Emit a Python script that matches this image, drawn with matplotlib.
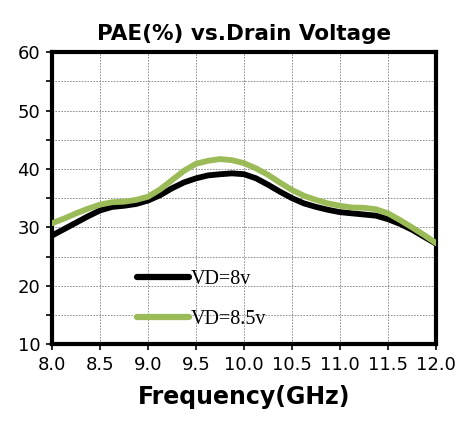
import numpy as np
import matplotlib
matplotlib.use("Agg")
import matplotlib.pyplot as plt

# frekvence [GHz] a PAE [%] (krok 0.125 GHz)
freq = [8.0, 8.125, 8.25, 8.375, 8.5, 8.625, 8.75, 8.875, 9.0, 9.125,
        9.25, 9.375, 9.5, 9.625, 9.75, 9.875, 10.0, 10.125, 10.25, 10.375,
        10.5, 10.625, 10.75, 10.875, 11.0, 11.125, 11.25, 11.375, 11.5,
        11.625, 11.75, 11.875, 12.0]
pae_8v = [28.6, 29.7, 30.8, 31.9, 32.9, 33.5, 33.7, 34.0, 34.6, 35.5,
          36.7, 37.7, 38.4, 38.9, 39.1, 39.25, 39.1, 38.4, 37.3, 36.1,
          35.0, 34.1, 33.5, 33.0, 32.6, 32.4, 32.2, 32.0, 31.4,
          30.6, 29.6, 28.4, 27.2]
pae_85v = [30.7, 31.5, 32.4, 33.2, 33.9, 34.3, 34.4, 34.7, 35.25, 36.5,
           38.1, 39.7, 40.9, 41.4, 41.7, 41.5, 41.0, 40.1, 39.0, 37.65,
           36.4, 35.4, 34.7, 34.1, 33.7, 33.4, 33.35, 33.1, 32.4,
           31.25, 30.0, 28.7, 27.3]
labels = ["VD=8v", "VD=8.5v"]
xticks = [8.0, 8.5, 9.0, 9.5, 10.0, 10.5, 11.0, 11.5, 12.0]

fig = plt.figure(figsize=(4.57, 4.28), dpi=100)
ax = fig.add_axes([0.114, 0.196, 0.840, 0.682])

ax.plot(freq, pae_8v, color="black", lw=4.2, solid_capstyle="round",
        solid_joinstyle="round", label=labels[0], zorder=3)
ax.plot(freq, pae_85v, color="#9bbb59", lw=4.2, solid_capstyle="round",
        solid_joinstyle="round", label=labels[1], zorder=4)

ax.set_xlim(8.0, 12.0)
ax.set_ylim(10, 60)
ax.set_xticks(xticks)
ax.set_xticklabels([f"{v:.1f}" for v in xticks])
ax.set_yticks(np.arange(10, 61, 10))
ax.set_yticks(np.arange(15, 60, 10), minor=True)
ax.grid(True, which="both", ls=(0, (2, 1.5)), lw=0.6, color="#808080")
ax.tick_params(axis="both", which="both", direction="out", length=4.5, width=1.2,
               labelsize=13, pad=4)
for s in ax.spines.values():
    s.set_linewidth(3)

ax.set_title("PAE(%) vs.Drain Voltage", fontsize=15.5, fontweight="bold", pad=9)
ax.set_xlabel("Frequency(GHz)", fontsize=17, fontweight="bold", labelpad=8)

# legenda uvnitr grafu, bez ramecku
leg = ax.legend(loc="upper left", bbox_to_anchor=(0.195, 0.29), frameon=False,
                handlelength=2.6, labelspacing=1.05, handletextpad=0.05,
                borderpad=0, prop={"family": "Liberation Serif", "size": 14.5})
for h in leg.get_lines():
    h.set_linewidth(4.5)

plt.savefig("out.png", dpi=100)
